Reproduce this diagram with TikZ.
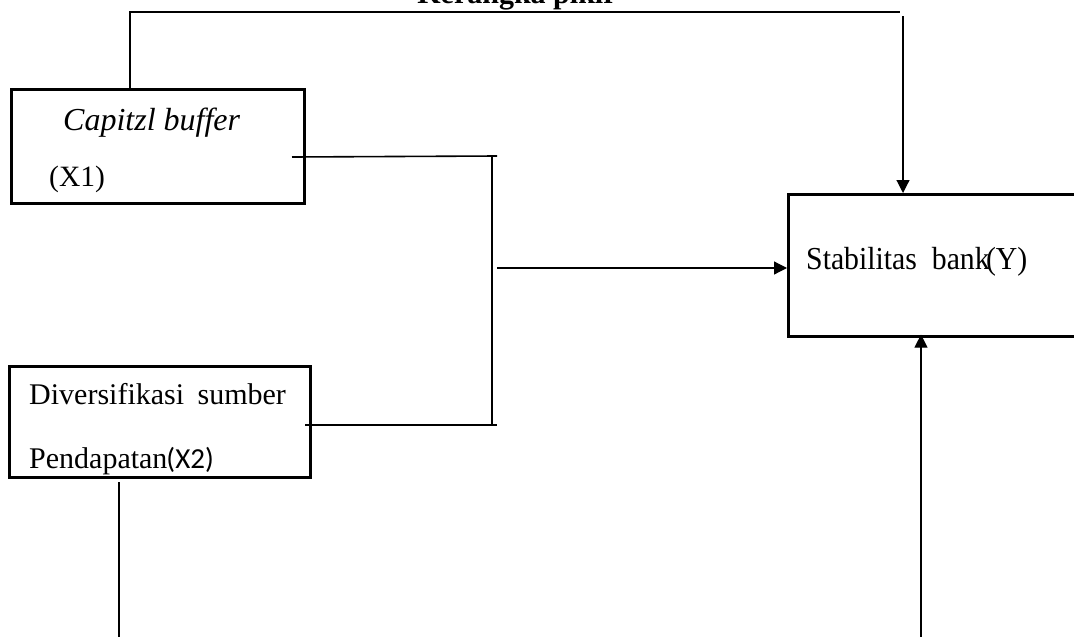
\documentclass[tikz,border=0pt]{standalone}
\usepackage{fontspec}
\setmainfont{Liberation Serif}
\newfontfamily\carlitofont{Carlito}
\usetikzlibrary{arrows.meta}
\tikzset{
  varbox/.style={draw, line width=2.6pt, inner sep=0pt, anchor=north west},
  conn/.style={line width=1.6pt},
  arr/.style={line width=1.2pt, -{Triangle[length=13pt,width=13pt]}},
  lbl/.style={anchor=base west, inner sep=0pt, font=\fontsize{30}{34}\selectfont},
}
\begin{document}
\begin{tikzpicture}[x=1pt,y=-1pt]
\clip (0,0) rectangle (1074,637);
\useasboundingbox (0,0) rectangle (1074,637);
% title (cut off by page top, as in the reference)
\node[lbl, anchor=base, font=\fontsize{30}{34}\selectfont\bfseries] (title) at (517,4) {Kerangka pikir};
% boxes
\node[varbox, minimum width=293pt, minimum height=114pt] (x1) at (10,88) {};
\node[varbox, minimum width=301pt, minimum height=111pt] (x2) at (8,365) {};
\node[varbox, minimum width=320pt, minimum height=142pt] (y) at (787,193) {};
% texts
\node[lbl, font=\fontsize{32}{34}\selectfont\itshape] (t1) at (63,130) {Capitzl buffer};
\node[lbl, font=\fontsize{29.5}{34}\selectfont] (t1b) at (49,186) {(X1)};
\node[lbl] (t2) at (29,404) {Diversifikasi\hspace{0.45em}sumber};
\node[lbl] (t2b) at (29,468) {Pendapatan\kern-1pt{\carlitofont\fontsize{29}{34}\selectfont(X2)}};
\node[lbl, font=\fontsize{32}{34}\selectfont] (t3) at (806,269) {\scalebox{0.93}[1]{Stabilitas\hspace{0.5em}bank\kern-4pt(Y)}};
% connector coordinates
\coordinate (topL) at (130,12);
\coordinate (topR) at (900,12);
\coordinate (dnS) at (903,16);
\coordinate (b1s) at (292,157);
\coordinate (b1e) at (497,156);
\coordinate (busT) at (492,156);
\coordinate (busB) at (492,425);
\coordinate (b2s) at (305,425);
\coordinate (b2e) at (497,425);
\coordinate (midS) at (497,268);
\coordinate (upS) at (921,637);
\coordinate (x2dS) at (119,482);
\coordinate (x2dE) at (119,637);
% connectors
\draw[conn] (x1.north west -| topL) -- (topL) -- (topR);
\draw[arr] (dnS) -- (dnS |- y.north);
\draw[conn] (b1s) -- (b1e);
\draw[conn] (busT) -- (busB);
\draw[conn] (b2s) -- (b2e);
\draw[arr] (midS) -- (midS -| y.west);
\draw[arr] (upS) -- ([yshift=3pt]upS |- y.south);
\draw[conn] (x2dS) -- (x2dE);
\end{tikzpicture}
\end{document}
